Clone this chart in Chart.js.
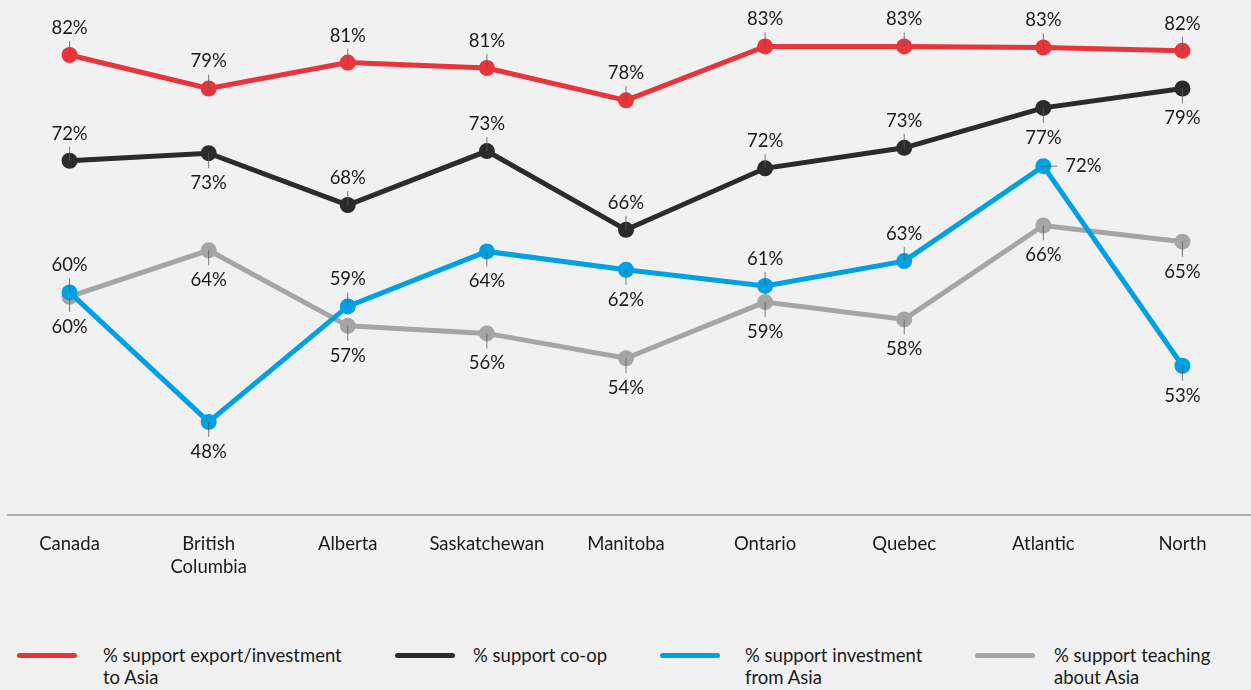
<!DOCTYPE html>
<html>
<head>
<meta charset="utf-8">
<script src="https://cdn.jsdelivr.net/npm/chart.js@4.4.1/dist/chart.umd.min.js"></script>
<style>
  html, body { margin: 0; padding: 0; background: #f1f1f1; }
  body { width: 1251px; height: 690px; position: relative; overflow: hidden; font-family: Lato, "Noto Sans", sans-serif; color: #1a1a1a; }
  #wrap { position: absolute; left: -8px; top: -8px; width: 1268px; height: 608px; }
  .lg-line { position: absolute; height: 5px; border-radius: 3px; top: 653px; width: 60px; }
  .lg-text { position: absolute; top: 644px; font-size: 18.5px; line-height: 22px; white-space: nowrap; color: #1a1a1a; }
</style>
</head>
<body>
<div id="wrap"><canvas id="c" width="1268" height="608"></canvas></div>
<div id="legend"></div>
<script>
// ---- data ----
const categories = ["Canada", ["British", "Columbia"], "Alberta", "Saskatchewan", "Manitoba", "Ontario", "Quebec", "Atlantic", "North"];
const seriesNames = ["% support export/investment\nto Asia", "% support co-op", "% support investment\nfrom Asia", "% support teaching\nabout Asia"];
const exportToAsia   = [82.0, 78.9, 81.3, 80.8, 77.8, 82.8, 82.8, 82.7, 82.4];
const coop           = [72.2, 72.9, 68.1, 73.1, 65.8, 71.5, 73.4, 77.1, 78.9];
const investFromAsia = [60.0, 48.0, 58.7, 63.8, 62.1, 60.6, 62.9, 71.7, 53.2];
const teachingAsia   = [59.6, 63.9, 56.9, 56.2, 53.9, 59.1, 57.5, 66.2, 64.7];
// label placement: a = above, b = below, r = right
const placeExport = ["a","a","a","a","a","a","a","a","a"];
const placeCoop   = ["a","b","a","a","a","a","a","b","b"];
const placeInvest = ["a","b","a","b","b","a","a","r","b"];
const placeTeach  = ["b","b","b","b","b","b","b","b","b"];
const colors = ["#e8343b", "#2b2b2b", "#00a0e2", "#a5a5a5"];

const allValues = [exportToAsia, coop, investFromAsia, teachingAsia];
const allPlaces = [placeExport, placeCoop, placeInvest, placeTeach];

const FONT = 'Lato, "Noto Sans", sans-serif';

const labelPlugin = {
  id: 'pointLabels',
  afterDatasetsDraw(chart) {
    const ctx = chart.ctx;
    ctx.save();
    ctx.font = '18.5px ' + FONT;
    ctx.fillStyle = '#1a1a1a';
    chart.data.datasets.forEach((ds, di) => {
      const meta = chart.getDatasetMeta(di);
      const places = allPlaces[di];
      meta.data.forEach((pt, i) => {
        const x = pt.x, y = pt.y;
        const txt = Math.round(ds.data[i]) + '%';
        const p = places[i];
        ctx.strokeStyle = 'rgba(90,90,90,0.8)';
        ctx.lineWidth = 1;
        ctx.beginPath();
        if (p === 'a') {
          ctx.moveTo(x, y - 14); ctx.lineTo(x, y);
        } else if (p === 'b') {
          ctx.moveTo(x, y); ctx.lineTo(x, y + 15);
        } else {
          ctx.moveTo(x, y); ctx.lineTo(x + 14, y);
        }
        ctx.stroke();
        ctx.textBaseline = 'middle';
        if (p === 'a') {
          ctx.textAlign = 'center'; ctx.fillText(txt, x, y - 27);
        } else if (p === 'b') {
          ctx.textAlign = 'center'; ctx.fillText(txt, x, y + 30);
        } else {
          ctx.textAlign = 'left'; ctx.fillText(txt, x + 22, y);
        }
      });
    });
    // baseline axis
    ctx.strokeStyle = '#9a9a9a';
    ctx.lineWidth = 1.5;
    ctx.beginPath();
    ctx.moveTo(15, chart.chartArea.bottom);
    ctx.lineTo(chart.width, chart.chartArea.bottom);
    ctx.stroke();
    ctx.restore();
  }
};

const datasets = allValues.map((vals, i) => ({
  label: seriesNames[i],
  data: vals,
  borderColor: colors[i],
  backgroundColor: colors[i],
  pointBackgroundColor: colors[i],
  pointBorderWidth: 0,
  pointRadius: 8,
  pointHoverRadius: 8,
  borderWidth: 5,
  tension: 0,
  clip: false
}));

new Chart(document.getElementById('c'), {
  type: 'line',
  data: { labels: categories, datasets },
  options: {
    responsive: false,
    animation: false,
    events: [],
    layout: { padding: 0 },
    plugins: { legend: { display: false }, tooltip: { enabled: false } },
    scales: {
      x: {
        offset: true,
        grid: { display: false, drawTicks: false },
        border: { display: false },
        ticks: { color: '#1a1a1a', font: { family: FONT, size: 18.5, lineHeight: 1.25 }, padding: 17, maxRotation: 0, autoSkip: false },
        afterFit(scale) { scale.height = 85; }
      },
      y: { display: false, min: 39.37, max: 87.1 }
    }
  },
  plugins: [labelPlugin]
});

// ---- HTML legend ----
const legendPos = [
  { line: 17, text: 103 },
  { line: 395, text: 473 },
  { line: 660, text: 745 },
  { line: 975, text: 1054 }
];
const lg = document.getElementById('legend');
seriesNames.forEach((name, i) => {
  const l = document.createElement('div');
  l.className = 'lg-line';
  l.style.left = legendPos[i].line + 'px';
  l.style.background = colors[i];
  lg.appendChild(l);
  const t = document.createElement('div');
  t.className = 'lg-text';
  t.style.left = legendPos[i].text + 'px';
  name.split('\n').forEach((part, k) => {
    if (k > 0) t.appendChild(document.createElement('br'));
    t.appendChild(document.createTextNode(part));
  });
  lg.appendChild(t);
});
</script>
</body>
</html>
